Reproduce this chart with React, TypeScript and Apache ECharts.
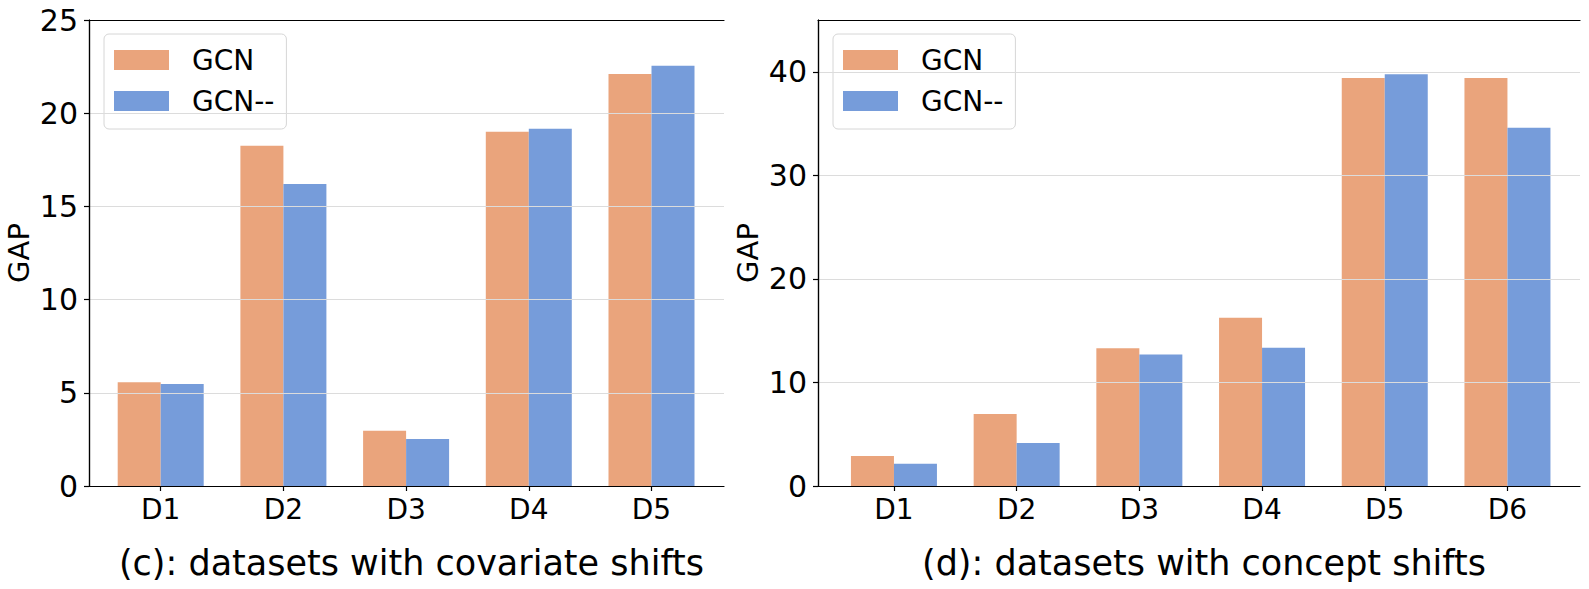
import React, { useEffect, useRef } from "react";
import * as echarts from "echarts";

const categoriesC = ["D1", "D2", "D3", "D4", "D5"];
const gcnC = [5.56, 18.25, 2.97, 19.0, 22.1];
const gcnMinusC = [5.47, 16.2, 2.52, 19.17, 22.55];

const categoriesD = ["D1", "D2", "D3", "D4", "D5", "D6"];
const gcnD = [2.9, 6.95, 13.3, 16.25, 39.4, 39.4];
const gcnMinusD = [2.15, 4.15, 12.7, 13.35, 39.75, 34.6];

const seriesNames = ["GCN", "GCN--"];
const titles = ["(c): datasets with covariate shifts", "(d): datasets with concept shifts"];
const yLabel = "GAP";

const ORANGE = "#EAA47C";
const BLUE = "#769CDA";
const FONT = "DejaVu Sans";

export default function App() {
  const ref = useRef<HTMLDivElement>(null);
  useEffect(() => {
    if (!ref.current) return;
    const chart = echarts.init(ref.current, undefined, { renderer: "svg" });

    const frameX = (gridIndex: number, position: string) => ({
      type: "value",
      gridIndex,
      position,
      min: 0,
      max: 1,
      z: 5,
      axisLine: { show: true, onZero: false, lineStyle: { color: "#000", width: 1.2 } },
      axisTick: { show: false },
      axisLabel: { show: false },
      splitLine: { show: false },
    });
    const catX = (gridIndex: number, data: string[]) => ({
      type: "category",
      gridIndex,
      data,
      position: "bottom",
      axisLine: { show: false },
      axisTick: { show: true, alignWithLabel: true, length: 5, lineStyle: { color: "#000", width: 1.2 } },
      axisLabel: { show: true, fontSize: 28, color: "#000", fontFamily: FONT, margin: 9 },
      splitLine: { show: false },
    });
    const mainY = (gridIndex: number, max: number, interval: number) => ({
      type: "value",
      gridIndex,
      position: "left",
      min: 0,
      max,
      interval,
      name: yLabel,
      nameLocation: "middle",
      nameRotate: 90,
      nameGap: 56,
      nameTextStyle: { fontSize: 29, color: "#000", fontFamily: FONT },
      axisLine: { show: true, lineStyle: { color: "#000", width: 1.2 } },
      axisTick: { show: true, length: 5, lineStyle: { color: "#000", width: 1.2 } },
      axisLabel: { fontSize: 30, color: "#000", fontFamily: FONT, margin: 11, showMaxLabel: max % interval === 0 },
      splitLine: { show: true, showMinLine: false, showMaxLine: false, lineStyle: { color: "#dcdcdc", width: 1 } },
      z: 5,
    });
    const rightY = (gridIndex: number, max: number) => ({
      type: "value",
      gridIndex,
      position: "right",
      min: 0,
      max,
      z: 5,
      axisLine: { show: true, lineStyle: { color: "#000", width: 1.2 } },
      axisTick: { show: false },
      axisLabel: { show: false },
      splitLine: { show: false },
    });
    const hiddenY = (gridIndex: number, max: number) => ({
      type: "value",
      gridIndex,
      min: 0,
      max,
      show: false,
      splitLine: { show: false },
    });
    const legend = (left: number) => ({
      orient: "vertical",
      left,
      top: 34,
      data: seriesNames,
      icon: "rect",
      itemWidth: 55,
      itemHeight: 20,
      itemGap: 13,
      padding: [12, 12, 14, 10],
      backgroundColor: "rgba(255,255,255,0.8)",
      borderColor: "#d6d6d6",
      borderWidth: 1,
      borderRadius: 5,
      textStyle: { fontSize: 28, color: "#000", fontFamily: FONT, padding: [0, 0, 0, 18] },
      selectedMode: false,
    });

    chart.setOption({
      animation: false,
      backgroundColor: "#fff",
      title: [
        {
          text: titles[0],
          left: 406.5,
          top: 540,
          textAlign: "center",
          textStyle: { fontSize: 35, fontWeight: "normal", color: "#000", fontFamily: FONT },
        },
        {
          text: titles[1],
          left: 1199,
          top: 540,
          textAlign: "center",
          textStyle: { fontSize: 35, fontWeight: "normal", color: "#000", fontFamily: FONT },
        },
      ],
      legend: [legend(104), legend(833)],
      grid: [
        { left: 89, top: 20, width: 635, height: 466 },
        { left: 99.35, top: 20, width: 613.5, height: 466 },
        { left: 818, top: 20, width: 762, height: 466 },
        { left: 832.6, top: 20, width: 736.2, height: 466 },
      ],
      xAxis: [
        frameX(0, "bottom"),
        frameX(0, "top"),
        catX(1, categoriesC),
        frameX(2, "bottom"),
        frameX(2, "top"),
        catX(3, categoriesD),
      ],
      yAxis: [
        mainY(0, 25, 5),
        rightY(0, 25),
        hiddenY(1, 25),
        mainY(2, 45, 10),
        rightY(2, 45),
        hiddenY(3, 45),
      ],
      series: [
        { type: "bar", name: seriesNames[0], xAxisIndex: 2, yAxisIndex: 2, data: gcnC, barWidth: 43, barGap: "0%", itemStyle: { color: ORANGE } },
        { type: "bar", name: seriesNames[1], xAxisIndex: 2, yAxisIndex: 2, data: gcnMinusC, barWidth: 43, barGap: "0%", itemStyle: { color: BLUE } },
        { type: "bar", name: seriesNames[0], xAxisIndex: 5, yAxisIndex: 5, data: gcnD, barWidth: 43, barGap: "0%", itemStyle: { color: ORANGE } },
        { type: "bar", name: seriesNames[1], xAxisIndex: 5, yAxisIndex: 5, data: gcnMinusD, barWidth: 43, barGap: "0%", itemStyle: { color: BLUE } },
      ],
    });
    return () => chart.dispose();
  }, []);
  return (
    <div
      ref={ref}
      style={{ position: "fixed", left: 0, top: 0, width: 1589, height: 589, background: "#fff" }}
    />
  );
}
